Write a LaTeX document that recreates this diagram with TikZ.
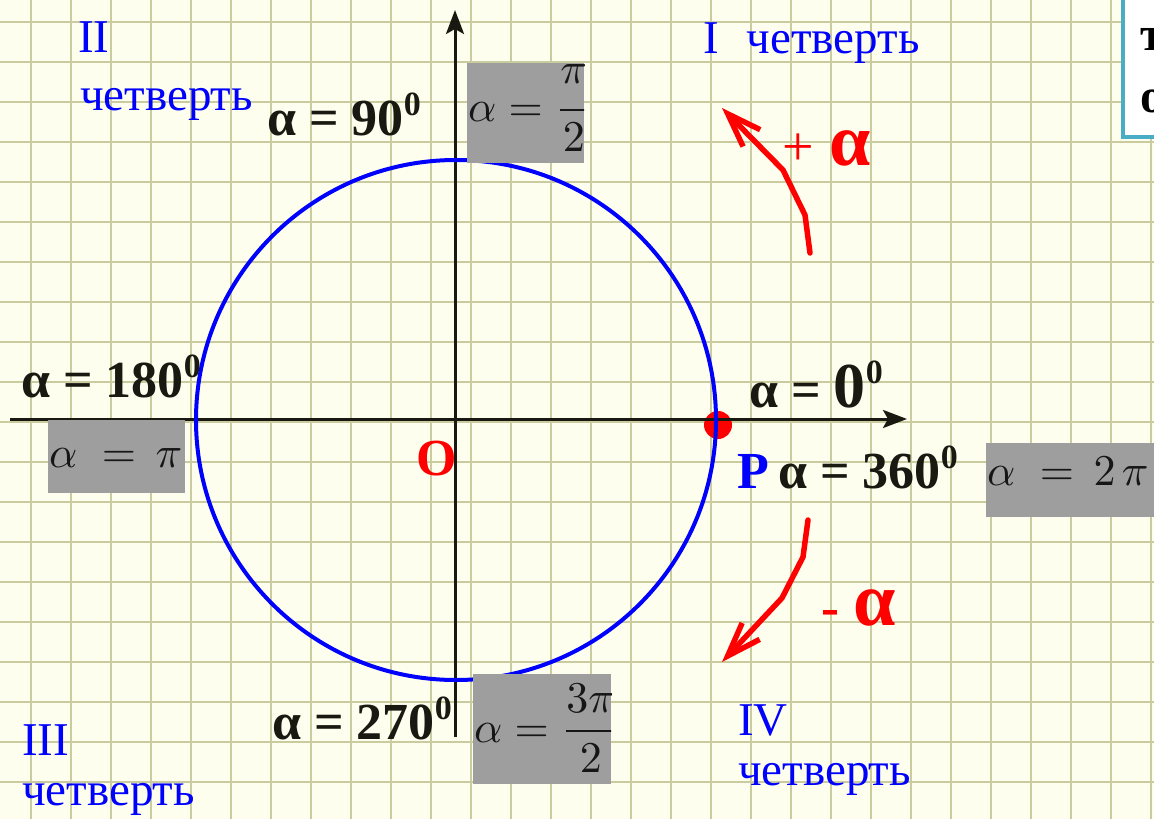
\documentclass[tikz,border=0pt]{standalone}
\usepackage{amsmath}
\usepackage{fontspec}
\setmainfont{Liberation Serif}
\usetikzlibrary{arrows.meta}
\definecolor{bgc}{RGB}{254,254,238}
\definecolor{gridc}{RGB}{203,203,160}
\definecolor{boxgray}{RGB}{158,158,158}
\definecolor{mathtxt}{RGB}{22,22,22}
\definecolor{axisc}{RGB}{25,25,18}
\definecolor{frameblue}{RGB}{75,172,198}
\newcommand\sdeg[1][20pt]{\raisebox{#1}{\fontsize{34}{34}\selectfont 0}}
\newcommand\bigmath[1]{\scalebox{4.4}{\fontsize{10}{12}\selectfont$#1$}}
\begin{document}
\begin{tikzpicture}[x=1pt,y=-1pt,
  gridline/.style={gridc, line width=2.4pt},
  axisline/.style={axisc, line width=3pt, -{Stealth[length=24pt,width=18pt,inset=5pt]}},
  quadlabel/.style={text=blue, font=\fontsize{47}{47}\selectfont, inner sep=0pt, anchor=base west},
  anglabel/.style={text=axisc, font=\fontsize{52}{52}\selectfont\bfseries, inner sep=0pt, anchor=base west},
  graybox/.style={fill=boxgray, draw=none},
  boxmath/.style={text=mathtxt, inner sep=0pt, anchor=base west},
  redarrow/.style={red, line width=5.5pt, line join=round, line cap=round, -{Straight Barb[length=34pt,width=24pt]}},
  redlabel/.style={text=red, inner sep=0pt, anchor=base west}]
\useasboundingbox (0,0) rectangle (1154,819);
\clip (0,0) rectangle (1154,819);
\fill[bgc] (0,0) rectangle (1154,819);
\foreach \gx in {31,71,...,1151} \draw[gridline] (\gx,0) -- (\gx,819);
\foreach \gy in {22,62,...,822} \draw[gridline] (0,\gy) -- (1154,\gy);

% point P
\fill[red] (718,425) circle[radius=14pt];
\coordinate (P0) at (718,425);

% axes
\coordinate (xL) at (10,419);
\coordinate (xR) at (907,419);
\coordinate (yB) at (455,737);
\coordinate (yT) at (455,10);
\draw[axisline] (xL) -- (xR);
\draw[axisline] (yB) -- (yT);

% unit circle
\node[circle, draw=blue, line width=4pt, minimum size=520pt, inner sep=0pt] (circ) at (456,420) {};

% gray boxes with radian values
\fill[graybox] (467,63) rectangle (584,163);
\begin{scope}
\clip (467,63) rectangle (584,163);
\node[boxmath] (r90) at (468,121) {\bigmath{\alpha = \dfrac{\pi\rule[-4.7pt]{0pt}{4.7pt}}{2}}};
\end{scope}
\fill[graybox] (48,420) rectangle (185,493);
\node[boxmath] (r180) at (49,467) {\bigmath{\alpha\mskip5mu = \mskip3mu\pi}};
\fill[graybox] (473,674) rectangle (611,784);
\begin{scope}
\clip (473,674) rectangle (611,784);
\node[boxmath] (r270) at (474,742) {\bigmath{\alpha = \dfrac{3\pi}{2}}};
\end{scope}
\fill[graybox] (986,443) rectangle (1160,517);
\node[boxmath] (r360) at (987,485) {\bigmath{\alpha\mskip5mu = \mskip3mu 2\mskip2.5mu\pi}};

% top right framed box (cut off)
\draw[frameblue, line width=4pt, fill=white] (1123,-20) rectangle (1200,137);
\node[anglabel, text=black, font=\fontsize{48}{48}\selectfont\bfseries] (tr1) at (1140,50) {т};
\node[anglabel, text=black, font=\fontsize{48}{48}\selectfont\bfseries] (tr2) at (1140,112) {о};

% quadrant labels
\node[quadlabel] (q2a) at (78,52) {II};
\node[quadlabel] (q2b) at (80,110) {четверть};
\node[quadlabel] (q1) at (703,53) {I\hspace{28pt}четверть};
\node[quadlabel] (q3a) at (22,755) {III};
\node[quadlabel] (q3b) at (22,805) {четверть};
\node[quadlabel] (q4a) at (738,735) {IV};
\node[quadlabel] (q4b) at (738,785) {четверть};

% degree labels
\node[anglabel] (d90) at (267,135) {α = 90\sdeg};
\node[anglabel] (d180) at (21,397) {α = 180\sdeg};
\node[anglabel] (d0) at (749,407) {α = {\fontsize{64}{64}\selectfont 0}\sdeg[24pt]};
\node[anglabel] (d270) at (272,739) {α = 270\sdeg};
\node[anglabel, text=blue] (Plab) at (737,488) {P};
\node[anglabel] (d360) at (778,488) {α = 360\sdeg};
\node[anglabel, text=red, font=\fontsize{52}{52}\selectfont\bfseries] (Olab) at (416,475) {O};

% direction arrows
\coordinate (pa0) at (810,253);
\coordinate (pa1) at (805,215);
\coordinate (pa2) at (783,170);
\coordinate (pa3) at (722,108);
\draw[redarrow] (pa0) -- (pa1) -- (pa2) -- (pa3);
\coordinate (ma0) at (808,520);
\coordinate (ma1) at (803,557);
\coordinate (ma2) at (782,598);
\coordinate (ma3) at (722,662);
\draw[redarrow] (ma0) -- (ma1) -- (ma2) -- (ma3);
\node[redlabel] (plus) at (782,165) {{\fontsize{56}{56}\selectfont +}\hspace{16pt}{\fontsize{74}{74}\selectfont\bfseries α}};
\node[redlabel] (minus) at (821,625) {{\fontsize{54}{54}\selectfont\bfseries -}\hspace{14pt}{\fontsize{76}{76}\selectfont\bfseries α}};
\end{tikzpicture}
\end{document}
